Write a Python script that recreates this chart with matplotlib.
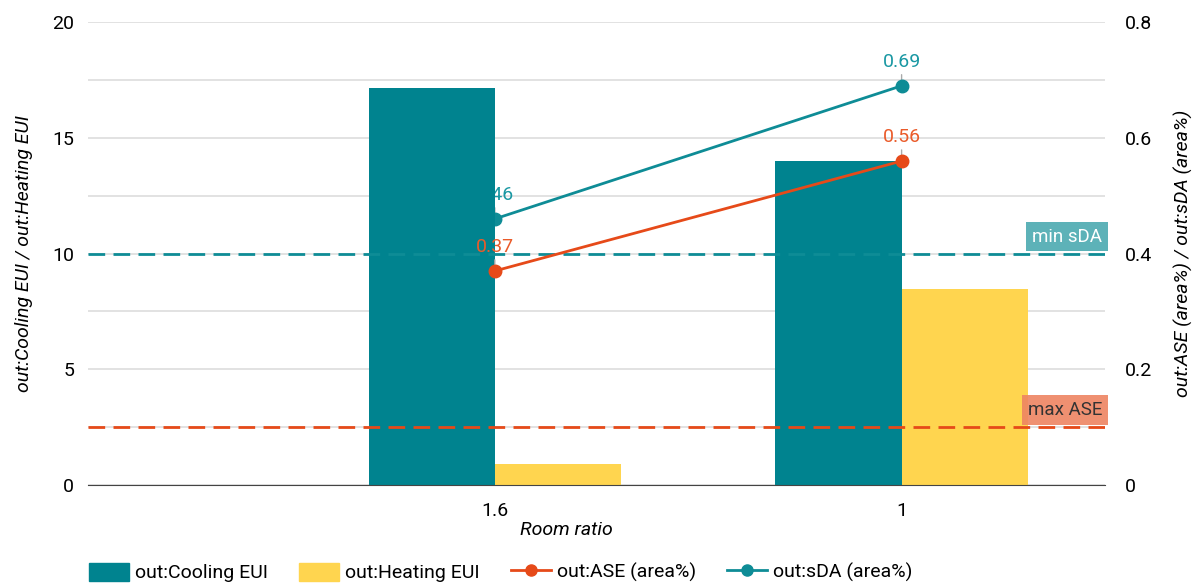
import numpy as np
import matplotlib
matplotlib.use('Agg')
import matplotlib.pyplot as plt
from matplotlib import transforms
from matplotlib.patches import Patch
from matplotlib.lines import Line2D

plt.rcParams['font.family'] = ['Roboto', 'DejaVu Sans']

# data
room_ratio = ['1.6', '1']
cooling_eui = [17.15, 14.0]
heating_eui = [0.9, 8.47]
ase_area = [0.37, 0.56]
sda_area = [0.46, 0.69]

min_sda = 0.4
max_ase = 0.1

c_cool = '#00838F'
c_heat = '#FFD54F'
c_ase = '#E64A19'
c_sda = '#0E8C96'

x = np.arange(len(room_ratio)) + 1
w = 0.31

fig = plt.figure(figsize=(11.99, 5.83), dpi=100)
rect = [0.0734, 0.168, 0.8482, 0.794]
ax_low = fig.add_axes(rect)        # sDA series, grid (under the bars)
ax = fig.add_axes(rect)            # bars
ax_top = fig.add_axes(rect)        # ASE series, thresholds, right axis
ax_low.set_zorder(0)
ax.set_zorder(1)
ax_top.set_zorder(2)
ax.patch.set_visible(False)
ax_top.patch.set_visible(False)

for a in (ax_low, ax_top):
    a.set_xlim(0, 2.5)
    a.set_ylim(0, 0.8)
    a.set_xticks([])
    for s in a.spines.values():
        s.set_visible(False)

# grid
ax_low.set_yticks(np.arange(0, 0.81, 0.1))
ax_low.grid(True, axis='y', color='#DDDDDD', lw=1.2)
ax_low.tick_params(axis='y', length=0, labelleft=False)

ax.bar(x - w / 2, cooling_eui, w, color=c_cool, zorder=2)
ax.bar(x + w / 2, heating_eui, w, color=c_heat, zorder=2)

ax.set_xlim(0, 2.5)
ax.set_ylim(0, 20)
ax.set_yticks([0, 5, 10, 15, 20])
ax.set_xticks(x)
ax.set_xticklabels(room_ratio)
ax.tick_params(axis='both', length=0, labelsize=14, pad=10)
ax.tick_params(axis='x', pad=12)
for s in ['top', 'right', 'left']:
    ax.spines[s].set_visible(False)
ax.spines['bottom'].set_color('#444444')

ax_top.yaxis.tick_right()
ax_top.yaxis.set_label_position('right')
ax_top.set_yticks([0, 0.2, 0.4, 0.6, 0.8])
ax_top.set_yticklabels(['0', '0.2', '0.4', '0.6', '0.8'])
ax_top.tick_params(axis='y', length=0, labelsize=14, pad=14)

# threshold lines
ax_top.axhline(min_sda, color=c_sda, lw=2, ls=(0, (6, 3)), zorder=3)
ax_top.axhline(max_ase, color=c_ase, lw=2, ls=(0, (6, 3)), zorder=3)
tr = transforms.blended_transform_factory(ax_top.transAxes, ax_top.transData)
ax_top.text(0.997, min_sda + 0.014, 'min sDA', transform=tr, ha='right', va='bottom',
            fontsize=13.5, color='white',
            bbox=dict(boxstyle='square,pad=0.3', fc='#5DB2B8', ec='none'))
ax_top.text(0.997, max_ase + 0.014, 'max ASE', transform=tr, ha='right', va='bottom',
            fontsize=13.5, color='#333333',
            bbox=dict(boxstyle='square,pad=0.3', fc='#EE8462', ec='none', alpha=0.9))

# lines with value labels
def draw_series(a, vals, color, txt_color):
    a.plot(x, vals, color=color, lw=2, marker='o', ms=9, zorder=4)
    for xi, v in zip(x, vals):
        a.annotate('%.2f' % v, (xi, v), xytext=(0, 11), textcoords='offset points',
                   ha='center', va='bottom', fontsize=14, color=txt_color,
                   arrowprops=dict(arrowstyle='-', color='#AAAAAA', lw=1,
                                   shrinkA=1, shrinkB=4))

draw_series(ax_top, ase_area, c_ase, '#EA5B2A')
draw_series(ax_low, sda_area, c_sda, '#1A98A3')

ax.set_ylabel('out:Cooling EUI / out:Heating EUI', fontsize=14, style='italic', labelpad=14)
ax_top.set_ylabel('out:ASE (area%) / out:sDA (area%)', fontsize=14, style='italic', labelpad=16)
ax.set_xlabel('Room ratio', fontsize=14, style='italic')
ax.xaxis.set_label_coords(0.47, -0.078)

handles = [Patch(color=c_cool), Patch(color=c_heat),
           Line2D([], [], color=c_ase, lw=2, marker='o', ms=8),
           Line2D([], [], color=c_sda, lw=2, marker='o', ms=8)]
labels = ['out:Cooling EUI', 'out:Heating EUI', 'out:ASE (area%)', 'out:sDA (area%)']
fig.legend(handles, labels, loc='center left', bbox_to_anchor=(0.0595, 0.018), ncol=4,
           frameon=False, fontsize=14, handlelength=2.06, handleheight=1.05,
           columnspacing=1.6, handletextpad=0.31)

fig.savefig('out.png', dpi=100)
